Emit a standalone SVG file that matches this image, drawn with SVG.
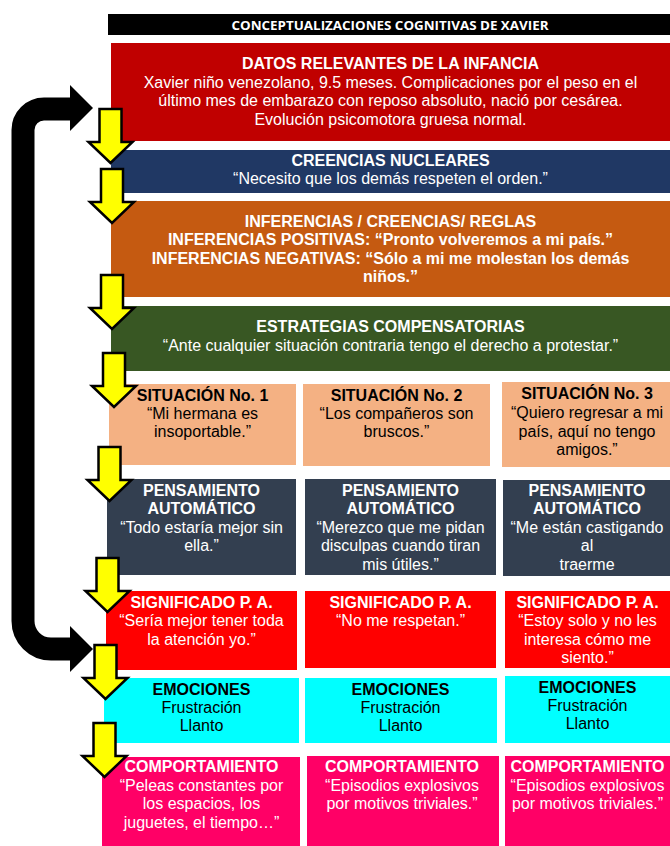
<svg xmlns="http://www.w3.org/2000/svg" xmlns:xlink="http://www.w3.org/1999/xlink" width="670" height="846" viewBox="0 0 670 846">
<style>
text{font-family:"Liberation Sans",Arial,sans-serif;font-size:16px;text-anchor:middle}
.h{font-weight:bold}
.w{fill:#fff}
.k{fill:#000}
.t{font-family:"Open Sans","Liberation Sans",sans-serif;font-weight:bold;font-size:12.5px;fill:#fff}
.ya{fill:#ffff00;stroke:#000;stroke-width:2.5;stroke-linejoin:miter}
</style>
<defs>
<path id="yarrow" class="ya" d="M-11,0 H11 V33 H22 L0,54 L-22,33 H-11 Z"/>
</defs>
<rect width="670" height="846" fill="#fff"/>
<g id="title">
<rect x="108" y="14" width="562" height="21" fill="#000"/>
<text class="t" x="390" y="29.5" textLength="317" lengthAdjust="spacingAndGlyphs">CONCEPTUALIZACIONES COGNITIVAS DE XAVIER</text>
</g>
<g id="datos">
<rect x="111" y="43" width="559" height="98" fill="#C00000"/>
<text class="h w" x="390.5" y="69">DATOS RELEVANTES DE LA INFANCIA</text>
<text class="w" x="390.5" y="87.5">Xavier niño venezolano, 9.5 meses. Complicaciones por el peso en el</text>
<text class="w" x="390.5" y="106">último mes de embarazo con reposo absoluto, nació por cesárea.</text>
<text class="w" x="390.5" y="124.5">Evolución psicomotora gruesa normal.</text>
</g>
<g id="creencias">
<rect x="111" y="150" width="559" height="43" fill="#203864"/>
<text class="h w" x="390.5" y="166">CREENCIAS NUCLEARES</text>
<text class="w" x="390.5" y="183.5">“Necesito que los demás respeten el orden.”</text>
</g>
<g id="inferencias">
<rect x="111" y="201" width="559" height="96" fill="#C55A11"/>
<text class="h w" x="390.5" y="226.5">INFERENCIAS / CREENCIAS/ REGLAS</text>
<text class="h w" x="390.5" y="245">INFERENCIAS POSITIVAS: “Pronto volveremos a mi país.”</text>
<text class="h w" x="390.5" y="263.5">INFERENCIAS NEGATIVAS: “Sólo a mi me molestan los demás</text>
<text class="h w" x="390.5" y="282">niños.”</text>
</g>
<g id="estrategias">
<rect x="111" y="306" width="559" height="65" fill="#385723"/>
<text class="h w" x="390.5" y="331.5">ESTRATEGIAS COMPENSATORIAS</text>
<text class="w" x="390.5" y="351">“Ante cualquier situación contraria tengo el derecho a protestar.”</text>
</g>
<g id="situacion1">
<rect x="109" y="384" width="187" height="81" fill="#F4B183"/>
<text class="h k" x="202.5" y="401">SITUACIÓN No. 1</text>
<text class="k" x="202.5" y="419">“Mi hermana es</text>
<text class="k" x="202.5" y="437">insoportable.”</text>
</g>
<g id="situacion2">
<rect x="303" y="384" width="187" height="82" fill="#F4B183"/>
<text class="h k" x="396.5" y="401">SITUACIÓN No. 2</text>
<text class="k" x="396.5" y="419">“Los compañeros son</text>
<text class="k" x="396.5" y="437">bruscos.”</text>
</g>
<g id="situacion3">
<rect x="502" y="382" width="168" height="85" fill="#F4B183"/>
<text class="h k" x="587" y="399">SITUACIÓN No. 3</text>
<text class="k" x="587" y="417.5">“Quiero regresar a mi</text>
<text class="k" x="587" y="436.5">país, aquí no tengo</text>
<text class="k" x="587" y="455">amigos.”</text>
</g>
<g id="pensamiento1">
<rect x="107" y="479" width="189" height="96" fill="#333F50"/>
<text class="h w" x="201.5" y="495.5">PENSAMIENTO</text>
<text class="h w" x="201.5" y="514">AUTOMÁTICO</text>
<text class="w" x="201.5" y="532.5">“Todo estaría mejor sin</text>
<text class="w" x="201.5" y="551">ella.”</text>
</g>
<g id="pensamiento2">
<rect x="305" y="479" width="191" height="96" fill="#333F50"/>
<text class="h w" x="400.5" y="495.5">PENSAMIENTO</text>
<text class="h w" x="400.5" y="514">AUTOMÁTICO</text>
<text class="w" x="400.5" y="532.5">“Merezco que me pidan</text>
<text class="w" x="400.5" y="551">disculpas cuando tiran</text>
<text class="w" x="400.5" y="569.5">mis útiles.”</text>
</g>
<g id="pensamiento3">
<rect x="503" y="480" width="167" height="96" fill="#333F50"/>
<text class="h w" x="587" y="496">PENSAMIENTO</text>
<text class="h w" x="587" y="514">AUTOMÁTICO</text>
<text class="w" x="587" y="532.5">“Me están castigando</text>
<text class="w" x="587" y="551">al</text>
<text class="w" x="587" y="569.5">traerme</text>
</g>
<g id="significado1">
<rect x="106" y="591" width="191" height="79" fill="#FF0000"/>
<text class="h w" x="201.5" y="607.5">SIGNIFICADO P. A.</text>
<text class="w" x="201.5" y="626">“Sería mejor tener toda</text>
<text class="w" x="201.5" y="644.5">la atención yo.”</text>
</g>
<g id="significado2">
<rect x="305" y="591" width="191" height="77" fill="#FF0000"/>
<text class="h w" x="400.5" y="607.5">SIGNIFICADO P. A.</text>
<text class="w" x="400.5" y="626">“No me respetan.”</text>
</g>
<g id="significado3">
<rect x="505" y="591" width="165" height="77" fill="#FF0000"/>
<text class="h w" x="587.5" y="607.5">SIGNIFICADO P. A.</text>
<text class="w" x="587.5" y="626">“Estoy solo y no les</text>
<text class="w" x="587.5" y="644.5">interesa cómo me</text>
<text class="w" x="587.5" y="662.5">siento.”</text>
</g>
<g id="emociones1">
<rect x="104" y="678" width="195" height="65" fill="#00FFFF"/>
<text class="h k" x="201.5" y="694.5">EMOCIONES</text>
<text class="k" x="201.5" y="713">Frustración</text>
<text class="k" x="201.5" y="731">Llanto</text>
</g>
<g id="emociones2">
<rect x="305" y="678" width="192" height="65" fill="#00FFFF"/>
<text class="h k" x="400.5" y="694.5">EMOCIONES</text>
<text class="k" x="400.5" y="713">Frustración</text>
<text class="k" x="400.5" y="731">Llanto</text>
</g>
<g id="emociones3">
<rect x="505" y="676" width="165" height="67" fill="#00FFFF"/>
<text class="h k" x="587.5" y="692.5">EMOCIONES</text>
<text class="k" x="587.5" y="711">Frustración</text>
<text class="k" x="587.5" y="729">Llanto</text>
</g>
<g id="comportamiento1">
<rect x="102" y="757" width="198" height="89" fill="#FF0066"/>
<text class="h w" x="201.5" y="772">COMPORTAMIENTO</text>
<text class="w" x="201.5" y="790.5">“Peleas constantes por</text>
<text class="w" x="201.5" y="809">los espacios, los</text>
<text class="w" x="201.5" y="827.5">juguetes, el tiempo…”</text>
</g>
<g id="comportamiento2">
<rect x="307" y="756" width="192" height="90" fill="#FF0066"/>
<text class="h w" x="402" y="772">COMPORTAMIENTO</text>
<text class="w" x="402" y="790.5">“Episodios explosivos</text>
<text class="w" x="402" y="809">por motivos triviales.”</text>
</g>
<g id="comportamiento3">
<rect x="505" y="756" width="165" height="90" fill="#FF0066"/>
<text class="h w" x="587.5" y="772">COMPORTAMIENTO</text>
<text class="w" x="587.5" y="790.5">“Episodios explosivos</text>
<text class="w" x="587.5" y="809">por motivos triviales.”</text>
</g>
<g id="connectors">
<path d="M72,109 H44 A21,21 0 0 0 23,130 V621 A28,28 0 0 0 51,649 H72" fill="none" stroke="#000" stroke-width="23"/>
<polygon points="70,85 93,108 70,131" fill="#000"/>
<polygon points="70,626 93,649 70,672" fill="#000"/>
<use xlink:href="#yarrow" transform="translate(110.5,109)"/>
<use xlink:href="#yarrow" transform="translate(112,169)"/>
<use xlink:href="#yarrow" transform="translate(112,275)"/>
<use xlink:href="#yarrow" transform="translate(114,353)"/>
<use xlink:href="#yarrow" transform="translate(109.5,447)"/>
<use xlink:href="#yarrow" transform="translate(107.5,558)"/>
<use xlink:href="#yarrow" transform="translate(105.5,645)"/>
<use xlink:href="#yarrow" transform="translate(104.5,723)"/>
</g>
</svg>
